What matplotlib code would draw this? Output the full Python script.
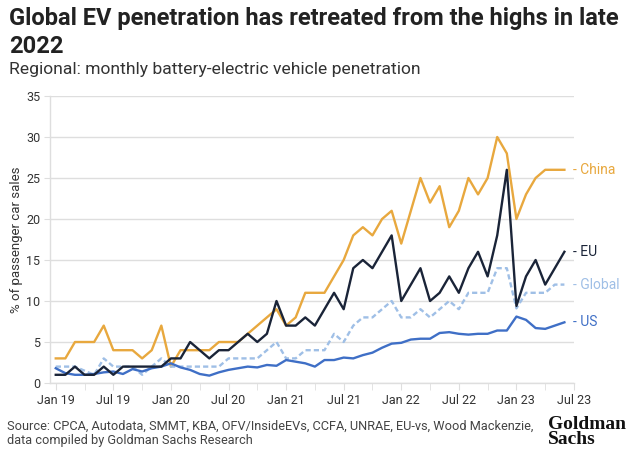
import matplotlib
matplotlib.use("Agg")
import matplotlib.pyplot as plt
import numpy as np

plt.rcParams['font.family'] = ['Roboto', 'DejaVu Sans']

# monthly BEV penetration, Jan 2019 .. Jun 2023 (% of passenger car sales)
china = [3, 3, 5, 5, 5, 7, 4, 4, 4, 3, 4, 7,
         2, 4, 4, 4, 4, 5, 5, 5, 6, 7, 8, 9,
         7, 8, 11, 11, 11, 13, 15, 18, 19, 18, 20, 21,
         17, 21, 25, 22, 24, 19, 21, 25, 23, 25, 30, 28,
         20, 23, 25, 26, 26, 26]
eu = [1, 1, 2, 1, 1, 2, 1, 2, 2, 2, 2, 2,
      3, 3, 5, 4, 3, 4, 4, 5, 6, 5, 6, 10,
      7, 7, 8, 7, 9, 11, 9, 14, 15, 14, 16, 18,
      10, 12, 14, 10, 11, 13, 11, 14, 16, 13, 18, 26,
      9.4, 13, 15, 12, 14, 16]
glob = [2, 2, 2, 1.5, 1, 3, 2, 2, 2, 1, 2, 3,
        2, 2, 2, 2, 2, 2, 3, 3, 3, 3, 4, 5,
        3, 3, 4, 4, 4, 6, 5, 7, 8, 8, 9, 10,
        8, 8, 9, 8, 9, 10, 9, 11, 11, 11, 14, 14,
        9.1, 11, 11, 11, 12, 12]
us = [1.8, 1.2, 1.0, 1.0, 1.1, 1.3, 1.4, 1.1, 1.7, 1.4, 1.8, 2.0,
      2.4, 1.9, 1.6, 1.1, 0.9, 1.3, 1.6, 1.8, 2.0, 1.9, 2.2, 2.1,
      2.8, 2.6, 2.4, 2.0, 2.8, 2.8, 3.1, 3.0, 3.4, 3.7, 4.3, 4.8,
      4.9, 5.3, 5.4, 5.4, 6.1, 6.2, 6.0, 5.9, 6.0, 6.0, 6.4, 6.4,
      8.1, 7.7, 6.7, 6.6, 7.0, 7.4]
tick_labels = ["Jan 19", "Jul 19", "Jan 20", "Jul 20", "Jan 21",
               "Jul 21", "Jan 22", "Jul 22", "Jan 23", "Jul 23"]

c_china = "#E8A83E"
c_eu = "#1A2438"
c_glob = "#9FBFE6"
c_us = "#3F6FC6"
grid_c = "#DEDEDE"
txt_c = "#333333"

fig = plt.figure(figsize=(6.38, 4.58), dpi=100)
ax = fig.add_axes([50/638, 1-383/458, (574-50)/638, (383-96)/458])

m = np.arange(len(china))
ax.plot(m, china, color=c_china, lw=1.7, zorder=3)
ax.plot(m, glob, color=c_glob, lw=1.7, ls=(0, (2.2, 1.3)), zorder=3)
ax.plot(m, us, color=c_us, lw=1.7, zorder=3)
ax.plot(m, eu, color=c_eu, lw=1.7, zorder=4)

ax.set_xlim(-0.6, 54)
ax.set_ylim(0, 35)
ax.set_yticks(range(0, 36, 5))
ax.set_xticks(np.arange(0, 55, 6))
ax.set_xticklabels(tick_labels)
ax.set_xticks(np.arange(3, 55, 6), minor=True)
ax.tick_params(axis='x', which='both', length=5, color=grid_c, labelsize=9,
               labelcolor=txt_c, pad=3)
ax.tick_params(axis='y', length=4, color=grid_c, labelsize=9,
               labelcolor=txt_c, pad=3)
ax.grid(axis='y', color=grid_c, lw=1)
ax.set_axisbelow(True)
for s in ['top', 'right']:
    ax.spines[s].set_visible(False)
for s in ['left', 'bottom']:
    ax.spines[s].set_color(grid_c)
    ax.spines[s].set_linewidth(1)
ax.set_ylabel("% of passenger car sales", fontsize=9.5, color=txt_c, labelpad=2)

# end labels
for name, vals, col in [("China", china, c_china), ("EU", eu, c_eu),
                        ("Global", glob, c_glob), ("US", us, c_us)]:
    ax.annotate("- " + name, xy=(m[-1], vals[-1]), xytext=(6, 0),
                textcoords='offset points', va='center', ha='left',
                fontsize=10, color=col, annotation_clip=False)

fig.text(9/638, 1-7/458, "Global EV penetration has retreated from the highs in late\n2022",
         fontsize=17, fontweight='bold', color="#222222", va='top', ha='left',
         linespacing=1.28)
fig.text(9/638, 1-62/458, "Regional: monthly battery-electric vehicle penetration",
         fontsize=12.6, color="#333333", va='top', ha='left')
fig.text(7/638, 1-420/458,
         "Source: CPCA, Autodata, SMMT, KBA, OFV/InsideEVs, CCFA, UNRAE, EU-vs, Wood Mackenzie,\n"
         "data compiled by Goldman Sachs Research",
         fontsize=9.2, color="#444444", va='top', ha='left', linespacing=1.1)
fig.text(548/638, 1-416/458, "Goldman\nSachs", fontsize=14, fontweight='bold',
         family=['Liberation Serif', 'DejaVu Serif'], color="#111111",
         va='top', ha='left', linespacing=0.85)

fig.savefig("out.png", dpi=100)
